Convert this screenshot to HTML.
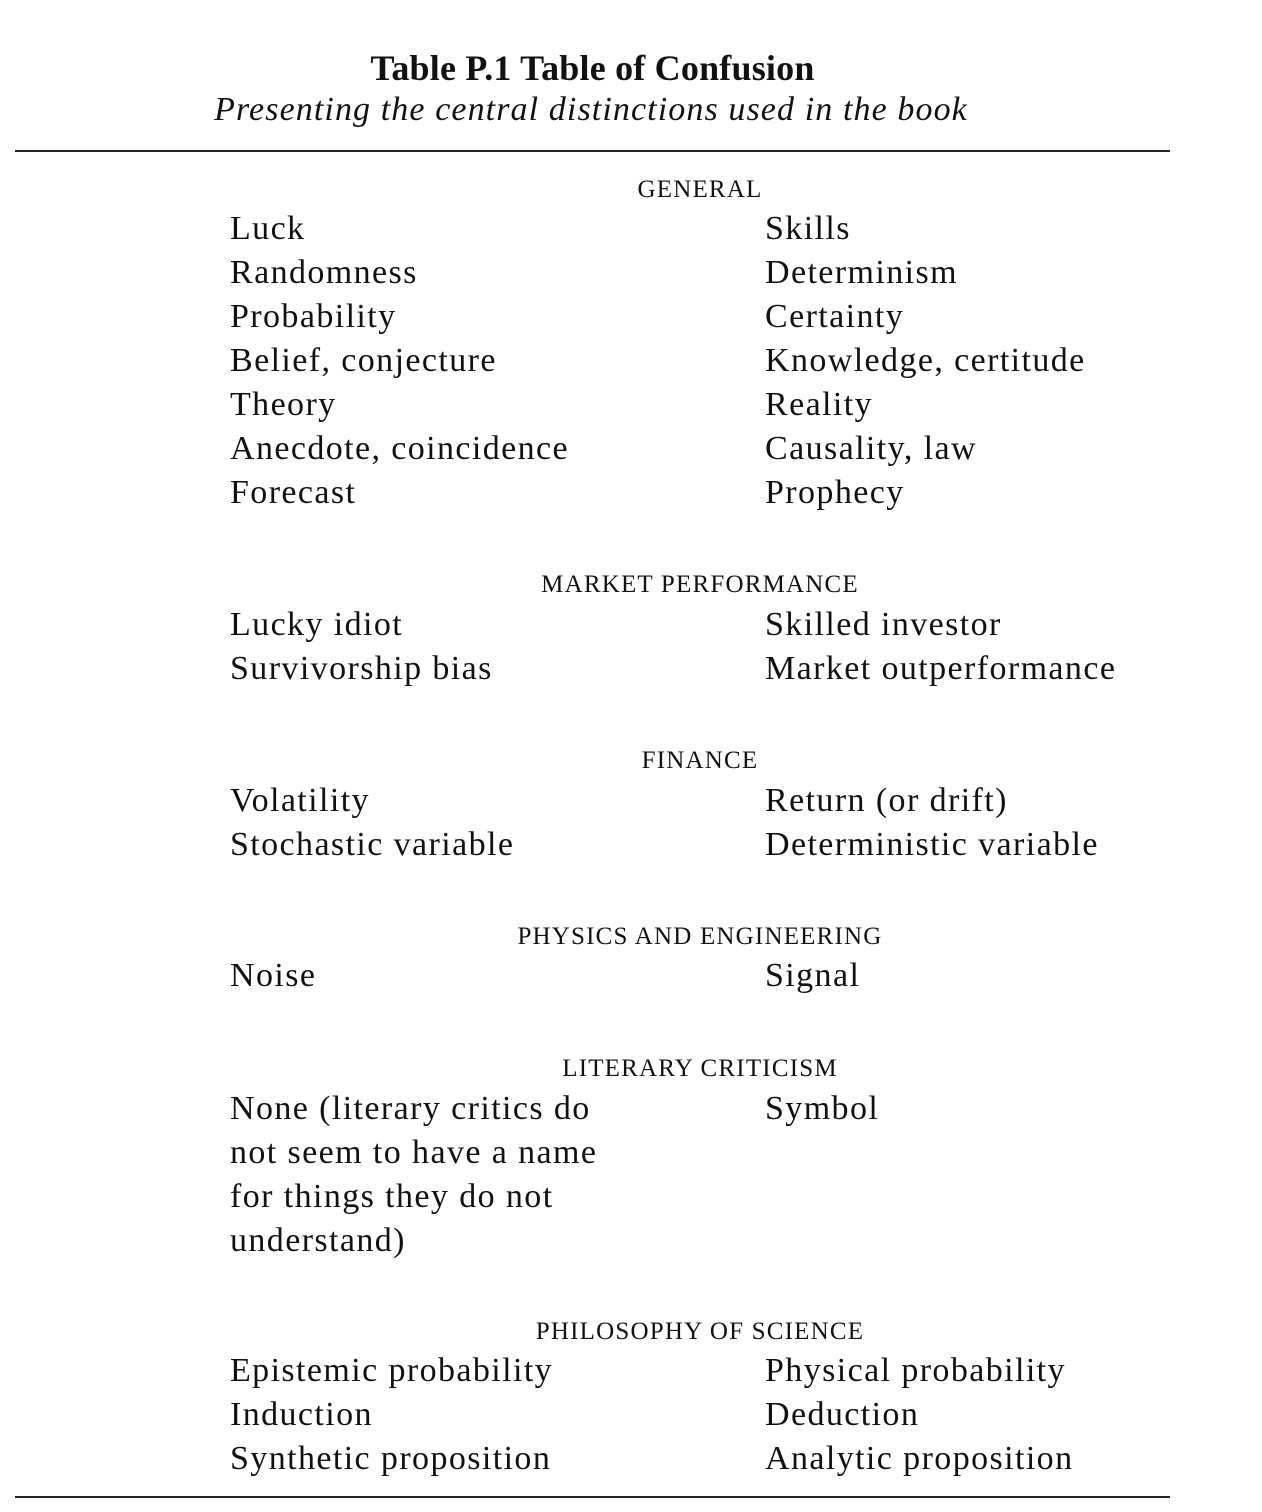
<!DOCTYPE html>
<html><head><meta charset="utf-8"><style>
html,body{margin:0;padding:0;background:#fff;}
body{width:1262px;height:1512px;position:relative;overflow:hidden;font-family:"Liberation Serif",serif;color:#111;}
.t{position:absolute;white-space:nowrap;line-height:1;}
.b{font-size:34px;letter-spacing:1.4px;}
.h{font-size:25px;letter-spacing:1.2px;left:0;width:1400px;text-align:center;}
.rule{position:absolute;left:15px;width:1155px;height:2px;background:#222;}
</style></head><body>
<div class="t" style="left:0;width:1185px;text-align:center;top:50px;font-size:36px;font-weight:bold;letter-spacing:0.2px;">Table P.1 Table of Confusion</div>
<div class="t" style="left:0;width:1182px;text-align:center;top:93px;font-size:34px;font-style:italic;letter-spacing:1.1px;">Presenting the central distinctions used in the book</div>
<div class="rule" style="top:150px;"></div>
<div class="rule" style="top:1496px;"></div>
<div id="rows"></div>
<script>
const items = [
 ["h",188,"GENERAL"],
 ["r",228,"Luck","Skills"],
 ["r",272,"Randomness","Determinism"],
 ["r",316,"Probability","Certainty"],
 ["r",360,"Belief, conjecture","Knowledge, certitude"],
 ["r",404,"Theory","Reality"],
 ["r",448,"Anecdote, coincidence","Causality, law"],
 ["r",492,"Forecast","Prophecy"],
 ["h",583,"MARKET PERFORMANCE"],
 ["r",624,"Lucky idiot","Skilled investor"],
 ["r",668,"Survivorship bias","Market outperformance"],
 ["h",759,"FINANCE"],
 ["r",800,"Volatility","Return (or drift)"],
 ["r",844,"Stochastic variable","Deterministic variable"],
 ["h",935,"PHYSICS AND ENGINEERING"],
 ["r",975,"Noise","Signal"],
 ["h",1067,"LITERARY CRITICISM"],
 ["r",1108,"None (literary critics do","Symbol"],
 ["r",1152,"not seem to have a name",""],
 ["r",1196,"for things they do not",""],
 ["r",1240,"understand)",""],
 ["h",1330,"PHILOSOPHY OF SCIENCE"],
 ["r",1370,"Epistemic probability","Physical probability"],
 ["r",1414,"Induction","Deduction"],
 ["r",1458,"Synthetic proposition","Analytic proposition"]
];
const root=document.getElementById('rows');
function mk(cls,txt,left,top){const d=document.createElement('div');d.className='t '+cls;d.textContent=txt;if(left!==null)d.style.left=left+'px';d.style.top=top+'px';root.appendChild(d);return d;}
items.forEach(it=>{
 if(it[0]==='h'){const d=mk('h',it[2],null,it[1]-11);
  
  }
 else{const a=mk('b',it[2],230,it[1]-16);
  
  
  if(it[3]){const c=mk('b',it[3],765,it[1]-16);
  
  }}
});
</script>
</body></html>
